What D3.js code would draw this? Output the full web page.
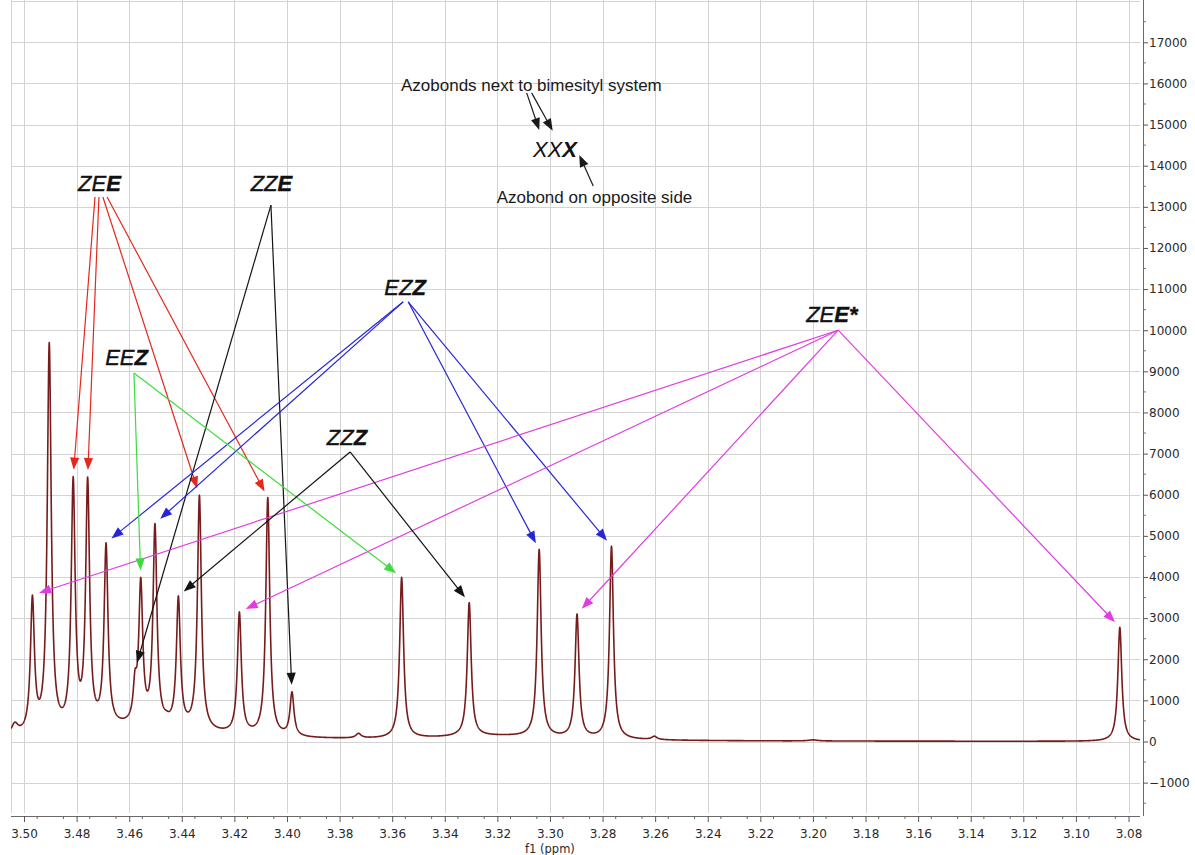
<!DOCTYPE html>
<html>
<head>
<meta charset="utf-8">
<script src="https://cdn.jsdelivr.net/npm/d3@7/dist/d3.min.js"></script>
<style>
  html, body { margin: 0; padding: 0; background: #fff; }
  svg { display: block; }
</style>
</head>
<body>
<svg id="chart" width="1195" height="855"></svg>
<script>
// 1H NMR region 3.08–3.50 ppm: resolved signals of the azo isomers

// Signal list: chemical shift (ppm), observed peak top (a.u.), half-width (ppm)
const peakPpm    = [3.5035, 3.4968, 3.4904, 3.4813, 3.4758, 3.4688, 3.4578, 3.4556, 3.4502, 3.4458, 3.4413, 3.4333, 3.4181, 3.4073, 3.3981, 3.3728, 3.3564, 3.3307, 3.3041, 3.2897, 3.2766, 3.2603, 3.2000, 3.0833];
const peakHeight = [470,    3560,   9700,   6440,   6430,   4830,   1750,   3990,   5300,   660,    3540,   5990,   3150,   5930,   1210,   200,    3990,   3375,   4670,   3100,   4750,   130,    40,     2775];
const peakWidth  = [0.0015, 0.0009, 0.0009, 0.0009, 0.0009, 0.0009, 0.0008, 0.0009, 0.0009, 0.0010, 0.0009, 0.0009, 0.0009, 0.0009, 0.0009, 0.0012, 0.0009, 0.0009, 0.0009, 0.0009, 0.0009, 0.0012, 0.0020, 0.0009];

// Broad underlying humps of the baseline: centre (ppm), height, half-width (ppm)
const humpPpm    = [3.455, 3.320];
const humpHeight = [320,   110];
const humpWidth  = [0.030, 0.030];

// Axis ticks
const xTickValues = [3.50, 3.48, 3.46, 3.44, 3.42, 3.40, 3.38, 3.36, 3.34, 3.32, 3.30, 3.28, 3.26, 3.24, 3.22, 3.20, 3.18, 3.16, 3.14, 3.12, 3.10, 3.08];
const yTickValues = [-1000, 0, 1000, 2000, 3000, 4000, 5000, 6000, 7000, 8000, 9000, 10000, 11000, 12000, 13000, 14000, 15000, 16000, 17000];

// Isomer labels: [normal italic part, bold italic part], anchor (ppm, intensity)
const isomerLabels = [
  { name: "ZEE",  parts: ["ZE", "E"],  ppm: 3.4713, val: 13380 },
  { name: "ZZE",  parts: ["ZZ", "E"],  ppm: 3.4059, val: 13380 },
  { name: "EZZ",  parts: ["EZ", "Z"],  ppm: 3.3551, val: 10850 },
  { name: "ZEE*", parts: ["ZE", "E*"], ppm: 3.1928, val: 10190 },
  { name: "EEZ",  parts: ["EE", "Z"],  ppm: 3.4610, val: 9150 },
  { name: "ZZZ",  parts: ["ZZ", "Z"],  ppm: 3.3772, val: 7200 }
];

// Assignment arrows: origin (ppm, intensity) -> signal at target shift
const arrows = [
  { label: "ZEE",  color: "#e5281c", fromPpm: 3.4730, fromVal: 13240, target: 3.4813 },
  { label: "ZEE",  color: "#e5281c", fromPpm: 3.4715, fromVal: 13240, target: 3.4758 },
  { label: "ZEE",  color: "#e5281c", fromPpm: 3.4700, fromVal: 13240, target: 3.4333 },
  { label: "ZEE",  color: "#e5281c", fromPpm: 3.4684, fromVal: 13240, target: 3.4073 },
  { label: "ZZE",  color: "#141414", fromPpm: 3.4061, fromVal: 13040, target: 3.4578 },
  { label: "ZZE",  color: "#141414", fromPpm: 3.4061, fromVal: 13040, target: 3.3981 },
  { label: "EZZ",  color: "#2626d6", fromPpm: 3.3558, fromVal: 10690, target: 3.4688 },
  { label: "EZZ",  color: "#2626d6", fromPpm: 3.3558, fromVal: 10690, target: 3.4502 },
  { label: "EZZ",  color: "#2626d6", fromPpm: 3.3539, fromVal: 10690, target: 3.3041 },
  { label: "EZZ",  color: "#2626d6", fromPpm: 3.3539, fromVal: 10690, target: 3.2766 },
  { label: "ZEE*", color: "#e03de0", fromPpm: 3.1904, fromVal: 10000, target: 3.4968 },
  { label: "ZEE*", color: "#e03de0", fromPpm: 3.1904, fromVal: 10000, target: 3.4181 },
  { label: "ZEE*", color: "#e03de0", fromPpm: 3.1904, fromVal: 10000, target: 3.2897 },
  { label: "ZEE*", color: "#e03de0", fromPpm: 3.1904, fromVal: 10000, target: 3.0833 },
  { label: "EEZ",  color: "#3ddc3d", fromPpm: 3.4582, fromVal: 8960,  target: 3.4556 },
  { label: "EEZ",  color: "#3ddc3d", fromPpm: 3.4582, fromVal: 8960,  target: 3.3564 },
  { label: "ZZZ",  color: "#141414", fromPpm: 3.3760, fromVal: 7040,  target: 3.4413 },
  { label: "ZZZ",  color: "#141414", fromPpm: 3.3760, fromVal: 7040,  target: 3.3307 }
];

// Legend explaining the three-letter notation
const legendTop    = { text: "Azobonds next to bimesityl system", ppm: 3.35665, val: 15816 };
const legendBottom = { text: "Azobond on opposite side",          ppm: 3.32027, val: 13085 };
const legendCode   = { parts: ["XX", "X"], ppm: 3.29810, val: 14218 };
const legendArrows = [
  { fromPpm: 3.30886, fromVal: 15771, toPpm: 3.30407, toVal: 14867 },
  { fromPpm: 3.30696, fromVal: 15771, toPpm: 3.29897, toVal: 14850 },
  { fromPpm: 3.28354, fromVal: 13506, toPpm: 3.28886, toVal: 14260 }
];

// ---------------------------------------------------------------------------
const svg = d3.select("#chart");
const plot = { left: 11, right: 1140, top: 0, bottom: 813 };
const axisY = 816;     // x-axis line position
const axisX = 1143;    // right intensity axis position

const x = d3.scaleLinear().domain([3.50, 3.08]).range([24, 1128.5]);
const y = d3.scaleLinear().domain([0, 17000]).range([741.5, 42.3]);

// Grid
const grid = svg.append("g").attr("stroke", "#d3d3d3").attr("stroke-width", 1).attr("shape-rendering", "crispEdges");
const hLines = d3.range(-1000, 18001, 1000);
grid.selectAll("line.h").data(hLines).join("line")
  .attr("x1", plot.left).attr("x2", plot.right)
  .attr("y1", d => Math.round(y(d)) + 0.5).attr("y2", d => Math.round(y(d)) + 0.5);
grid.selectAll("line.v").data(xTickValues).join("line")
  .attr("y1", plot.top).attr("y2", plot.bottom)
  .attr("x1", d => Math.round(x(d)) + 0.5).attr("x2", d => Math.round(x(d)) + 0.5);
grid.append("line").attr("x1", plot.left + 0.5).attr("x2", plot.left + 0.5)
  .attr("y1", plot.top).attr("y2", plot.bottom);

// Spectrum: Lorentzian signals on a broad baseline
const lor = (p, c, h, w) => h * w * w / ((p - c) * (p - c) + w * w);
const hump = p => d3.sum(humpPpm, (c, i) => lor(p, c, humpHeight[i], humpWidth[i]));

// amplitudes chosen so each signal top reaches its observed height
let amp = peakHeight.slice();
for (let it = 0; it < 60; it++) {
  amp = peakPpm.map((c, i) => {
    let others = hump(c);
    peakPpm.forEach((c2, j) => { if (j !== i) others += lor(c, c2, amp[j], peakWidth[j]); });
    return Math.max(peakHeight[i] - others, peakHeight[i] * 0.08);
  });
}
const spectrum = p => hump(p) + d3.sum(peakPpm, (c, i) => lor(p, c, amp[i], peakWidth[i]));

const ppmLeft = x.invert(plot.left), ppmRight = x.invert(plot.right);
const samples = [];
const step = (ppmLeft - ppmRight) / 6000;
for (let k = 0; k <= 6000; k++) samples.push(ppmLeft - k * step);
// make sure each apex is sampled exactly
peakPpm.forEach(c => samples.push(c));
samples.sort((a, b) => b - a);

svg.append("defs").append("clipPath").attr("id", "plotClip")
  .append("rect").attr("x", plot.left).attr("y", plot.top)
  .attr("width", plot.right - plot.left).attr("height", plot.bottom - plot.top);

svg.append("path")
  .datum(samples)
  .attr("clip-path", "url(#plotClip)")
  .attr("fill", "none")
  .attr("stroke", "#761c1c")
  .attr("stroke-width", 1.6)
  .attr("stroke-linejoin", "round")
  .attr("d", d3.line().x(p => x(p)).y(p => y(spectrum(p))));

// Axes
const xAxis = d3.axisBottom(x).tickValues(xTickValues).tickFormat(d3.format(".2f"))
  .tickSize(6).tickSizeOuter(0).tickPadding(7);
const gx = svg.append("g").attr("transform", `translate(0,${axisY})`).call(xAxis);
gx.select(".domain").attr("d", `M${plot.left},0.5H${plot.right}`).attr("stroke", "#6a6a6a");
gx.selectAll(".tick line").attr("stroke", "#555");
gx.selectAll(".tick text").attr("font-family", "DejaVu Sans, Verdana, sans-serif").attr("font-size", 12).attr("fill", "#2a2a2a");
const xMinor = d3.range(0, 43).map(i => 3.505 - 0.01 * i).filter(p => p < ppmLeft && p > ppmRight);
gx.append("g").selectAll("line").data(xMinor).join("line")
  .attr("x1", d => x(d)).attr("x2", d => x(d)).attr("y1", 0).attr("y2", 3).attr("stroke", "#666");

const yAxis = d3.axisRight(y).tickValues(yTickValues).tickFormat(d3.format("d"))
  .tickSize(5).tickSizeOuter(0).tickPadding(1);
const gy = svg.append("g").attr("transform", `translate(${axisX},0)`).call(yAxis);
gy.select(".domain").attr("d", `M0.5,0V${axisY}`).attr("stroke", "#6a6a6a");
gy.selectAll(".tick line").attr("stroke", "#555");
gy.selectAll(".tick text").attr("font-family", "DejaVu Sans, Verdana, sans-serif").attr("font-size", 12).attr("fill", "#2a2a2a");
const yMinor = d3.range(-1500, 18000, 1000);
gy.append("g").selectAll("line").data(yMinor).join("line")
  .attr("x1", 0).attr("x2", 3).attr("y1", d => y(d)).attr("y2", d => y(d)).attr("stroke", "#777");

svg.append("text").attr("x", x(3.30)).attr("y", 852.5)
  .attr("text-anchor", "middle")
  .attr("font-family", "DejaVu Sans, Verdana, sans-serif").attr("font-size", 11.5).attr("fill", "#2a2a2a")
  .text("f1 (ppm)");

// Arrow helper (pixel space)
function drawArrow(g, x0, y0, x1, y1, color, gap) {
  const dx = x1 - x0, dy = y1 - y0, len = Math.hypot(dx, dy);
  const ux = dx / len, uy = dy / len;
  const tx = x1 - ux * gap, ty = y1 - uy * gap;
  const head = 12, half = 4.6;
  const bx = tx - ux * head, by = ty - uy * head;
  g.append("line").attr("x1", x0).attr("y1", y0).attr("x2", bx + ux * 2).attr("y2", by + uy * 2)
    .attr("stroke", color).attr("stroke-width", 1.2);
  g.append("path")
    .attr("d", `M${tx},${ty}L${bx - uy * half},${by + ux * half}L${bx + uy * half},${by - ux * half}Z`)
    .attr("fill", color);
}

const ann = svg.append("g");
arrows.forEach(a => {
  const i = peakPpm.indexOf(a.target);
  drawArrow(ann, x(a.fromPpm), y(a.fromVal), x(a.target), y(peakHeight[i]), a.color, 7);
});

// Isomer labels
isomerLabels.forEach(l => {
  const t = ann.append("text").attr("x", x(l.ppm)).attr("y", y(l.val))
    .attr("text-anchor", "middle")
    .attr("font-family", "Liberation Sans, Arial, sans-serif").attr("font-size", 22)
    .attr("font-style", "italic").attr("fill", "#111")
    .attr("stroke", "#111").attr("stroke-width", 0.4);
  t.append("tspan").text(l.parts[0]);
  t.append("tspan").attr("font-weight", "bold").text(l.parts[1]);
});

// Notation legend
const lg = svg.append("g");
lg.append("text").attr("x", x(legendTop.ppm)).attr("y", y(legendTop.val))
  .attr("font-family", "Liberation Sans, Arial, sans-serif").attr("font-size", 17).attr("fill", "#1a1a1a")
  .text(legendTop.text);
lg.append("text").attr("x", x(legendBottom.ppm)).attr("y", y(legendBottom.val))
  .attr("font-family", "Liberation Sans, Arial, sans-serif").attr("font-size", 17).attr("fill", "#1a1a1a")
  .text(legendBottom.text);
const code = lg.append("text").attr("x", x(legendCode.ppm)).attr("y", y(legendCode.val))
  .attr("text-anchor", "middle")
  .attr("font-family", "Liberation Sans, Arial, sans-serif").attr("font-size", 22)
  .attr("font-style", "italic").attr("fill", "#111");
code.append("tspan").text(legendCode.parts[0]);
code.append("tspan").attr("font-weight", "bold").text(legendCode.parts[1]);
legendArrows.forEach(a => {
  drawArrow(lg, x(a.fromPpm), y(a.fromVal), x(a.toPpm), y(a.toVal), "#1a1a1a", 0);
});
</script>
</body>
</html>
